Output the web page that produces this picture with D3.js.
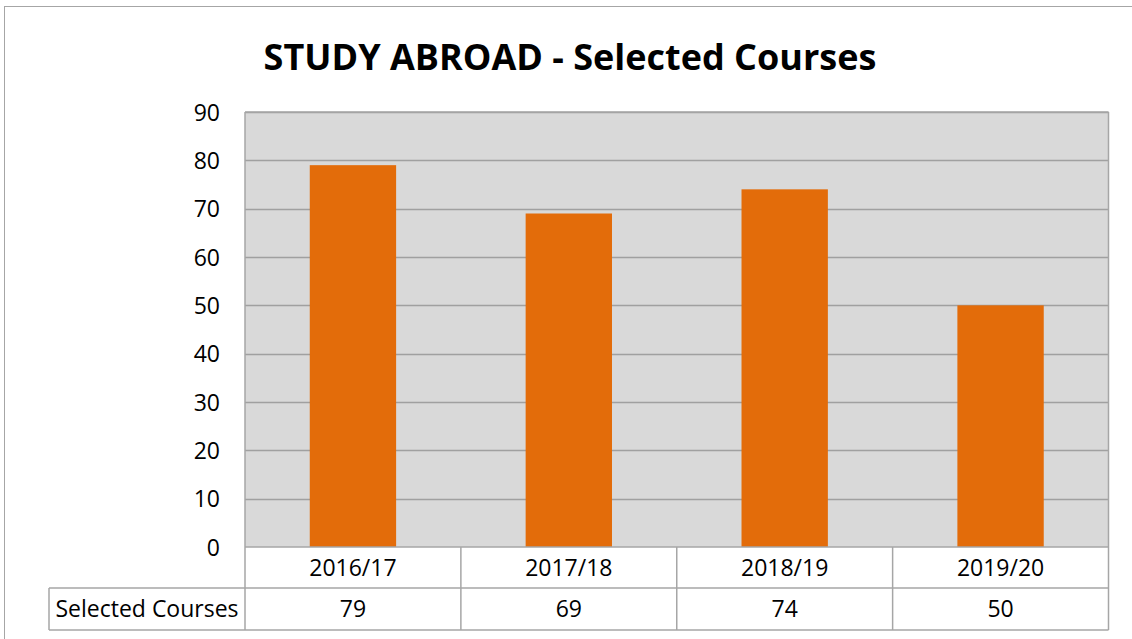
<!DOCTYPE html>
<html>
<head>
<meta charset="utf-8">
<script src="https://cdn.jsdelivr.net/npm/d3@7"></script>
<style>
  body { margin: 0; background: #fff; }
  svg { display: block; }
  text { font-family: "Open Sans", sans-serif; fill: #000; }
</style>
</head>
<body>
<script>
// chart data
var categories = ["2016/17", "2017/18", "2018/19", "2019/20"],
    values = [79, 69, 74, 50],
    seriesName = "Selected Courses",
    yTicks = [0, 10, 20, 30, 40, 50, 60, 70, 80, 90],
    title = "STUDY ABROAD - Selected Courses";

var W = 1132, H = 639;
var margin = {top: 112, left: 245, right: 23.5},
    plotBottom = 547,
    row1 = 588, row2 = 630,
    labelLeft = 49;

var bar_color = "#e36c0a",
    plot_bg = "#d9d9d9",
    grid_color = "#a0a0a0",
    line_color = "#a6a6a6";

var svg = d3.select("body").append("svg")
    .attr("width", W)
    .attr("height", H);

// outer chart border
svg.append("rect")
    .attr("x", 4.5).attr("y", 6.5)
    .attr("width", W + 10).attr("height", H + 10)
    .style("fill", "#fff")
    .style("stroke", line_color);

var x = d3.scaleBand()
    .domain(categories)
    .range([margin.left, W - margin.right])
    .paddingInner(0).paddingOuter(0);

var y = d3.scaleLinear()
    .domain([0, 90])
    .range([plotBottom, margin.top]);

// title
svg.append("text")
    .attr("x", 570)
    .attr("y", 70)
    .attr("text-anchor", "middle")
    .style("font-weight", "bold")
    .style("font-size", "36px")
    .text(title);

// plot background
svg.append("rect")
    .attr("x", margin.left).attr("y", margin.top)
    .attr("width", x.range()[1] - margin.left)
    .attr("height", plotBottom - margin.top)
    .style("fill", plot_bg);

// gridlines
svg.append("g")
    .selectAll("line")
    .data(yTicks.filter(function(d){ return d > 0; }))
  .enter().append("line")
    .attr("x1", margin.left).attr("x2", x.range()[1])
    .attr("y1", function(d){ return Math.round(y(d)) + 0.5; })
    .attr("y2", function(d){ return Math.round(y(d)) + 0.5; })
    .style("stroke", grid_color)
    .style("stroke-width", 1.5);

// y axis labels
var yAxis = d3.axisLeft(y).tickValues(yTicks).tickSize(0).tickPadding(0);
var gy = svg.append("g")
    .attr("transform", "translate(220,0)")
    .call(yAxis);
gy.select(".domain").remove();
gy.selectAll("text")
    .style("font-family", "'Open Sans', sans-serif")
    .style("font-size", "23px")
    .attr("dy", "0.36em")
    .style("fill", "#000");

// bars
var barW = x.bandwidth() * 0.4;
svg.append("g")
    .selectAll("rect")
    .data(values)
  .enter().append("rect")
    .attr("x", function(d, i){ return x(categories[i]) + (x.bandwidth() - barW) / 2; })
    .attr("y", function(d){ return y(d); })
    .attr("width", barW)
    .attr("height", function(d){ return plotBottom - y(d); })
    .style("fill", bar_color);

// data table lines
var tbl = svg.append("g").style("stroke", line_color).style("stroke-width", 1.5);
var xr = x.range()[1];
tbl.append("line").attr("x1", margin.left).attr("x2", margin.left).attr("y1", margin.top).attr("y2", row2);
tbl.append("line").attr("x1", xr).attr("x2", xr).attr("y1", margin.top).attr("y2", row2);
tbl.append("line").attr("x1", margin.left).attr("x2", xr).attr("y1", margin.top).attr("y2", margin.top);
tbl.append("line").attr("x1", margin.left).attr("x2", xr).attr("y1", plotBottom).attr("y2", plotBottom);
tbl.append("line").attr("x1", labelLeft).attr("x2", xr).attr("y1", row1).attr("y2", row1);
tbl.append("line").attr("x1", labelLeft).attr("x2", xr).attr("y1", row2).attr("y2", row2);
tbl.append("line").attr("x1", labelLeft).attr("x2", labelLeft).attr("y1", row1).attr("y2", row2);
tbl.selectAll("line.div")
    .data(categories.slice(1))
  .enter().append("line")
    .attr("class", "div")
    .attr("x1", function(d){ return x(d); }).attr("x2", function(d){ return x(d); })
    .attr("y1", plotBottom).attr("y2", row2);

// category labels
svg.append("g")
    .selectAll("text")
    .data(categories)
  .enter().append("text")
    .attr("x", function(d){ return x(d) + x.bandwidth() / 2; })
    .attr("y", (plotBottom + row1) / 2)
    .attr("dy", "0.36em")
    .attr("text-anchor", "middle")
    .style("font-size", "23px")
    .text(function(d){ return d; });

// values row
svg.append("g")
    .selectAll("text")
    .data(values)
  .enter().append("text")
    .attr("x", function(d, i){ return x(categories[i]) + x.bandwidth() / 2; })
    .attr("y", (row1 + row2) / 2)
    .attr("dy", "0.36em")
    .attr("text-anchor", "middle")
    .style("font-size", "23px")
    .text(function(d){ return d; });

svg.append("text")
    .attr("x", (labelLeft + margin.left) / 2)
    .attr("y", (row1 + row2) / 2)
    .attr("dy", "0.36em")
    .attr("text-anchor", "middle")
    .style("font-size", "23px")
    .text(seriesName);
</script>
</body>
</html>
